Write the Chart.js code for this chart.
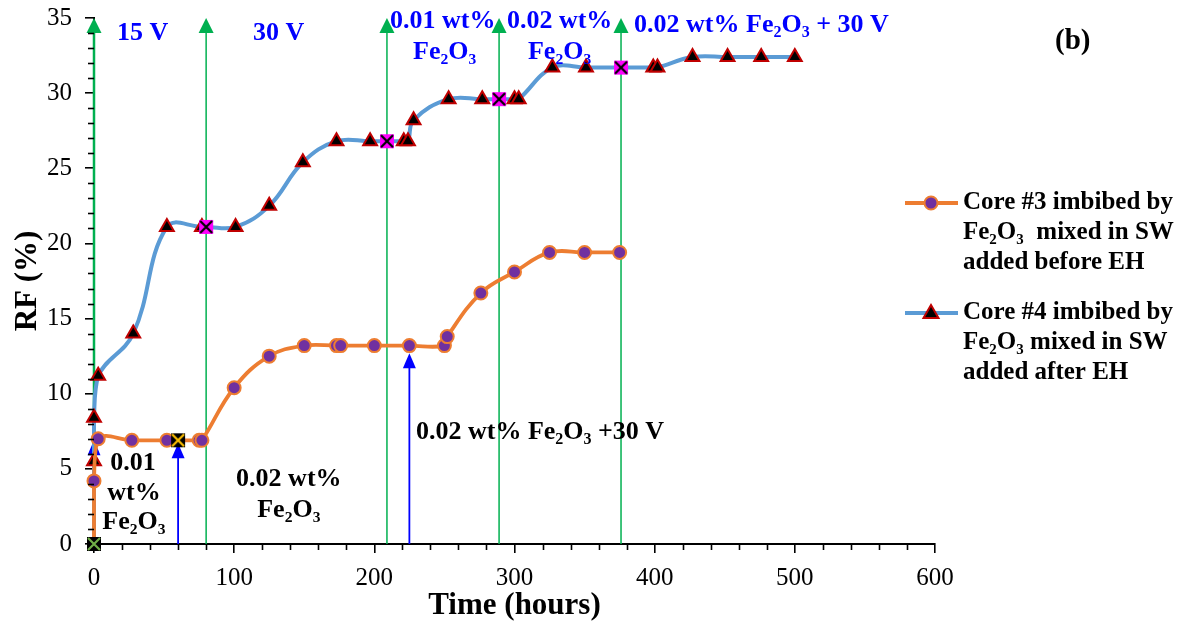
<!DOCTYPE html>
<html><head><meta charset="utf-8">
<script src="https://cdn.jsdelivr.net/npm/chart.js@4.4.1/dist/chart.umd.min.js"></script>
<style>html,body{margin:0;padding:0;background:#fff}canvas{display:block}</style>
</head><body>
<canvas id="c" width="1195" height="626"></canvas>
<script>
// ---------- data ----------
const core3Time = [0,0,3,27,52,60,75,77,100,125,150,173,176,200,225,250,252,276,300,325,350,375];
const core3RF   = [0,4.2,7.0,6.9,6.9,6.9,6.9,6.9,10.4,12.5,13.2,13.2,13.2,13.2,13.2,13.2,13.8,16.7,18.1,19.4,19.4,19.4];
const core4Time = [0,0,0,3,28,52,77,80,101,125,149,173,197,209,221,224,228,253,277,289,300,303,327,351,376,399,402,427,452,476,500];
const core4RF   = [0,5.5,8.4,11.2,14.0,21.1,21.1,21.1,21.1,22.5,25.4,26.8,26.8,26.8,26.8,26.8,28.2,29.6,29.6,29.6,29.6,29.6,31.7,31.7,31.7,31.7,31.7,32.4,32.4,32.4,32.4];
const core3Special = {0:'origin', 5:'gold'};
const core4Special = {0:'origin', 7:'pink', 13:'pink', 19:'pink', 24:'pink'};
const xTickValues = [0,100,200,300,400,500,600];
const yTickValues = [0,5,10,15,20,25,30,35];
const greenLineTimes = [0,80,209,289,376];
const blueArrowTimes = [0,60,225];
const blueArrowTips  = [6.9,6.7,12.7];
const seriesNames = ['Core #3 imbibed by|Fe₂O₃  mixed in SW|added before EH','Core #4 imbibed by|Fe₂O₃ mixed in SW|added after EH'];

const FONT = '"Liberation Serif", "Times New Roman", serif';
Chart.defaults.font.family = FONT;
Chart.defaults.color = '#000';

// ---------- special marker images ----------
function xSquare(fill, stroke){
  const c = document.createElement('canvas'); c.width = 16; c.height = 16;
  const g = c.getContext('2d');
  g.fillStyle = fill; g.fillRect(1,1,14,14);
  g.strokeStyle = stroke; g.lineWidth = 2.2;
  g.beginPath(); g.moveTo(2,2); g.lineTo(14,14); g.moveTo(14,2); g.lineTo(2,14); g.stroke();
  return c;
}
const markerImgs = {origin: xSquare('#000','#70AD47'), gold: xSquare('#000','#FFC000'), pink: xSquare('#FF00FF','#000')};

function toXY(t, v){ return t.map((x,i)=>({x:x, y:v[i]})); }

function drawRich(ctx, segs, x, y, size, color, align){
  ctx.save();
  ctx.fillStyle = color; ctx.textBaseline = 'middle'; ctx.textAlign = 'left';
  const main = 'bold ' + size + 'px ' + FONT;
  const sub = 'bold ' + Math.round(size*0.62) + 'px ' + FONT;
  let total = 0;
  segs.forEach(s => { ctx.font = s[1] ? sub : main; total += ctx.measureText(s[0]).width; });
  let cx = align === 'center' ? x - total/2 : x;
  segs.forEach(s => {
    ctx.font = s[1] ? sub : main;
    ctx.fillText(s[0], cx, y + (s[1] ? size*0.3 : 0));
    cx += ctx.measureText(s[0]).width;
  });
  ctx.restore();
}

// annotation texts in data units (hours, RF)
const notes = [
  {segs:[['15 V']], x:16.4, y:34.0, c:'#0000FF'},
  {segs:[['30 V']], x:113.4, y:34.0, c:'#0000FF'},
  {segs:[['0.01 wt%']], x:211.2, y:34.8, c:'#0000FF'},
  {segs:[['Fe₂O₃']], x:227.6, y:32.7, c:'#0000FF'},
  {segs:[['0.02 wt%']], x:294.6, y:34.8, c:'#0000FF'},
  {segs:[['Fe₂O₃']], x:309.6, y:32.7, c:'#0000FF'},
  {segs:[['0.02 wt% Fe'],['2',1],['O'],['3',1],[' + 30 V']], x:385.3, y:34.5, c:'#0000FF'},
  {segs:[['0.01']], x:27.8, y:5.4, c:'#000', align:'center'},
  {segs:[['wt%']], x:28.5, y:3.4, c:'#000', align:'center'},
  {segs:[['Fe₂O₃']], x:28.5, y:1.45, c:'#000', align:'center'},
  {segs:[['0.02 wt%']], x:139, y:4.3, c:'#000', align:'center'},
  {segs:[['Fe₂O₃']], x:139, y:2.25, c:'#000', align:'center'},
  {segs:[['0.02 wt% Fe'],['2',1],['O'],['3',1],[' +30 V']], x:229.7, y:7.45, c:'#000'}
];

function triangle(ctx, x, tipY, w, h, color){
  ctx.fillStyle = color;
  ctx.beginPath(); ctx.moveTo(x, tipY); ctx.lineTo(x + w/2, tipY + h); ctx.lineTo(x - w/2, tipY + h); ctx.closePath(); ctx.fill();
}

const annotationPlugin = {
  id: 'annotations',
  beforeDatasetsDraw(chart){
    const {ctx, scales:{x, y}} = chart;
    ctx.save();
    greenLineTimes.forEach(t => {
      const px = x.getPixelForValue(t);
      ctx.strokeStyle = '#00B050'; ctx.lineWidth = t === 0 ? 2.5 : 1.5;
      ctx.beginPath(); ctx.moveTo(px, y.getPixelForValue(0)); ctx.lineTo(px, y.getPixelForValue(34.2)); ctx.stroke();
      triangle(ctx, px, y.getPixelForValue(35), 15, 15, '#00B050');
    });
    blueArrowTimes.forEach((t,i) => {
      const px = x.getPixelForValue(t);
      const tip = y.getPixelForValue(blueArrowTips[i]);
      ctx.strokeStyle = '#0000FF'; ctx.lineWidth = 1.8;
      ctx.beginPath(); ctx.moveTo(px, y.getPixelForValue(0)); ctx.lineTo(px, tip + 10); ctx.stroke();
      triangle(ctx, px, tip, 13, 15, '#0000FF');
    });
    ctx.restore();
  },
  afterDraw(chart){
    const {ctx, scales:{x, y}} = chart;
    ctx.save();
    ctx.strokeStyle = '#000'; ctx.lineWidth = 1.6;
    const x0 = x.left, yb = y.bottom;
    for (let v = 0; v <= 35; v++) {
      if (v % 5 === 0) continue;
      const py = Math.round(y.getPixelForValue(v)) + 0.5;
      ctx.beginPath(); ctx.moveTo(x0, py); ctx.lineTo(x0 - 6, py); ctx.stroke();
    }
    for (let v = 0; v <= 600; v += 20) {
      if (v % 100 === 0) continue;
      const px = Math.round(x.getPixelForValue(v)) + 0.5;
      ctx.beginPath(); ctx.moveTo(px, yb); ctx.lineTo(px, yb + 6); ctx.stroke();
    }
    notes.forEach(n => drawRich(ctx, n.segs, x.getPixelForValue(n.x), y.getPixelForValue(n.y), 26, n.c, n.align));
    ctx.fillStyle = '#000'; ctx.font = 'bold 29px ' + FONT; ctx.textBaseline = 'middle'; ctx.textAlign = 'left';
    ctx.fillText('(b)', 1055, 42);
    const items = chart.data.datasets;
    const ly = [203, 313];
    items.forEach((ds, i) => {
      const cy = ly[i];
      ctx.strokeStyle = ds.borderColor; ctx.lineWidth = ds.borderWidth;
      ctx.beginPath(); ctx.moveTo(905, cy); ctx.lineTo(958, cy); ctx.stroke();
      ctx.fillStyle = ds.pointBackgroundColor; ctx.strokeStyle = ds.pointBorderColor; ctx.lineWidth = ds.pointBorderWidth;
      if (i === 0) {
        ctx.beginPath(); ctx.arc(931, cy, 6.5, 0, Math.PI*2); ctx.fill(); ctx.stroke();
      } else {
        ctx.beginPath(); ctx.moveTo(931, cy - 8); ctx.lineTo(938.5, cy + 5); ctx.lineTo(923.5, cy + 5); ctx.closePath(); ctx.fill(); ctx.stroke();
      }
      ctx.fillStyle = '#000'; ctx.font = 'bold 25px ' + FONT; ctx.textAlign = 'left'; ctx.textBaseline = 'middle';
      ds.label.split('|').forEach((line, k) => ctx.fillText(line, 963, cy + k*29.7));
    });
    ctx.restore();
  }
};

new Chart(document.getElementById('c'), {
  type: 'line',
  data: {
    datasets: [
      {
        label: seriesNames[0],
        data: toXY(core3Time, core3RF),
        borderColor: '#ED7D31', borderWidth: 3.8, tension: 0.4, clip: false,
        pointStyle: c => core3Special[c.dataIndex] ? markerImgs[core3Special[c.dataIndex]] : 'circle',
        pointRadius: 6.5, pointBackgroundColor: '#7030A0', pointBorderColor: '#ED7D31', pointBorderWidth: 2,
        fill: false
      },
      {
        label: seriesNames[1],
        data: toXY(core4Time, core4RF),
        borderColor: '#5B9BD5', borderWidth: 4, tension: 0.4, clip: false,
        pointStyle: c => core4Special[c.dataIndex] ? markerImgs[core4Special[c.dataIndex]] : 'triangle',
        pointRadius: 8, pointBackgroundColor: '#000000', pointBorderColor: '#C00000', pointBorderWidth: 2,
        fill: false
      }
    ]
  },
  options: {
    responsive: false, animation: false, events: [],
    layout: {padding: {left: 0, right: 260, top: 18, bottom: 0}},
    plugins: {legend: {display: false}, tooltip: {enabled: false}},
    scales: {
      x: {
        type: 'linear', min: 0, max: 600,
        afterBuildTicks: s => { s.ticks = xTickValues.map(v => ({value: v})); },
        ticks: {color: '#000', font: {family: FONT, size: 25}, padding: 10, maxRotation: 0},
        grid: {drawOnChartArea: false, drawTicks: true, tickLength: 9, color: '#000', lineWidth: 1.6},
        border: {display: true, color: '#000', width: 2},
        title: {display: true, text: 'Time (hours)', color: '#000', font: {family: FONT, size: 31, weight: 'bold'}, padding: {top: 0, bottom: 1}},
        afterFit: s => { s.height = 82; s.paddingLeft = 10; s.paddingRight = 20; }
      },
      y: {
        type: 'linear', min: 0, max: 35,
        afterBuildTicks: s => { s.ticks = yTickValues.map(v => ({value: v})); },
        ticks: {color: '#000', font: {family: FONT, size: 25}, padding: 13},
        grid: {drawOnChartArea: false, drawTicks: true, tickLength: 9, color: '#000', lineWidth: 1.6},
        border: {display: true, color: '#000', width: 2},
        title: {display: true, text: 'RF (%)', color: '#000', font: {family: FONT, size: 31, weight: 'bold'}, padding: {top: 9, bottom: 0}},
        afterFit: s => { s.width = 94; s.paddingTop = 15; s.paddingBottom = 15; }
      }
    }
  },
  plugins: [annotationPlugin]
});
</script>
</body></html>
